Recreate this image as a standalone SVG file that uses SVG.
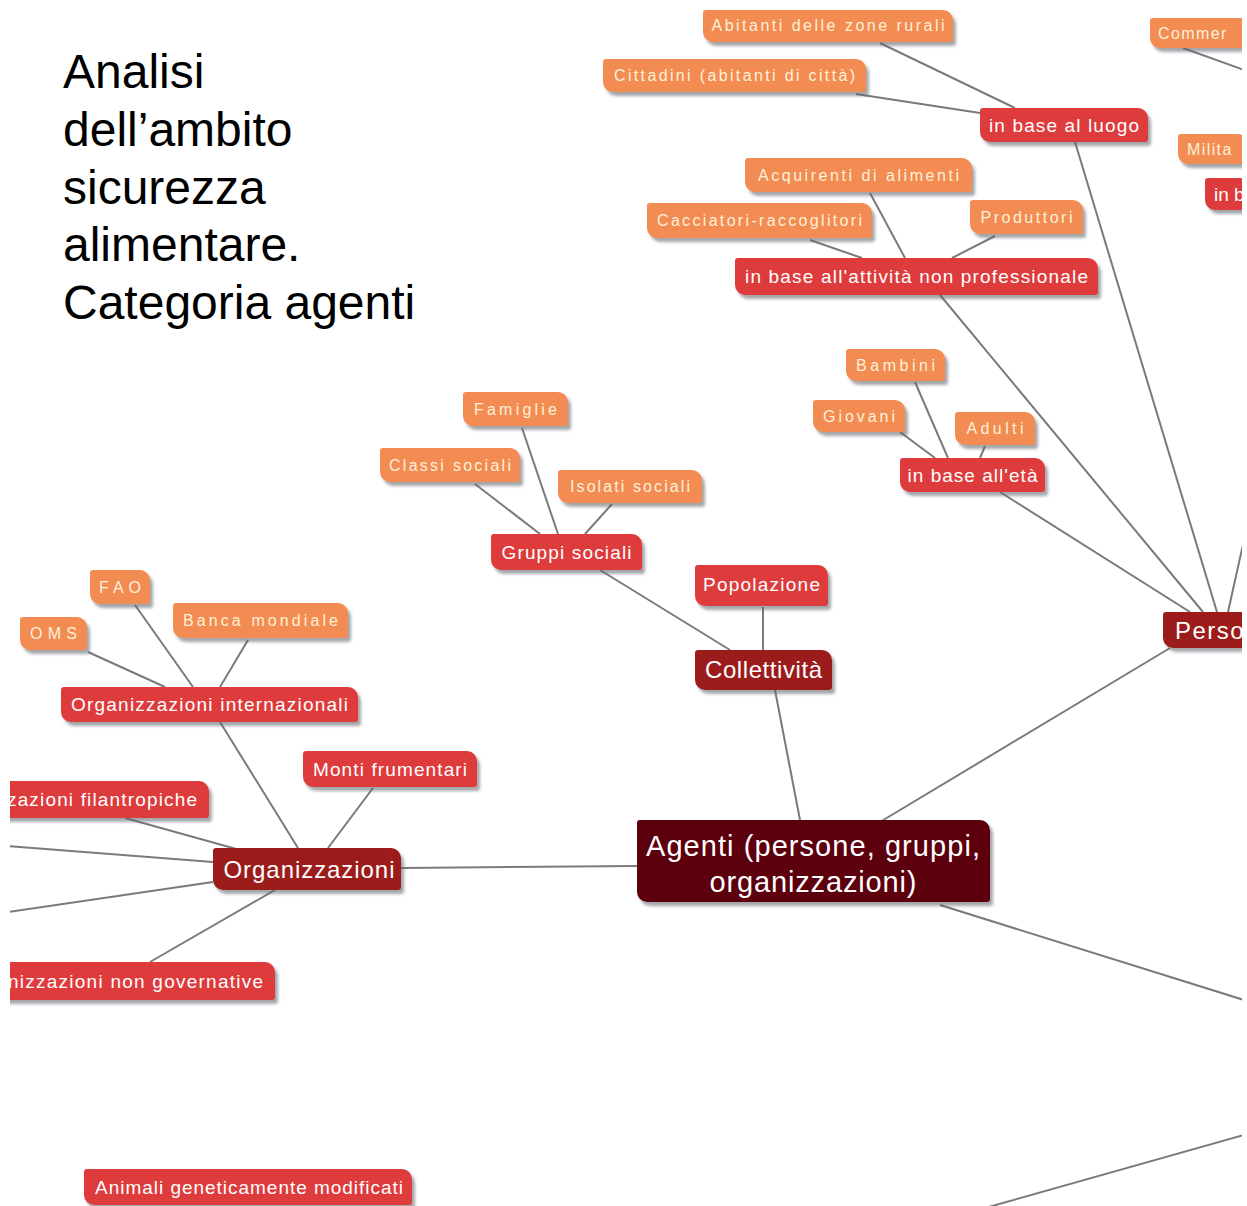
<svg xmlns="http://www.w3.org/2000/svg" width="1247" height="1206" viewBox="0 0 1247 1206">
<defs>
<clipPath id="area"><rect x="10" y="0" width="1232" height="1206"/></clipPath>
<filter id="sh" x="-10%" y="-20%" width="130%" height="160%">
<feDropShadow dx="3" dy="4" stdDeviation="1.5" flood-color="#5a6068" flood-opacity="0.55"/>
</filter>
</defs>
<style>
.bg{fill:#fff}
.title{font-family:"Liberation Sans",Arial,sans-serif;font-size:48px;fill:#000}
.edges line{stroke:#7a7a7a;stroke-width:2;fill:none}
.node path{filter:url(#sh)}
.o path{fill:#F28C52}
.r path{fill:#DE3B3D}
.d path{fill:#9C1A1C}
.a path{fill:#5B0507}
.node text{font-family:"Liberation Sans",Arial,sans-serif;text-anchor:middle}
.o text{fill:#FFF1D8;font-size:16px}
.r text{fill:#fff;font-size:19px}
.d text{fill:#fff;font-size:24px}
.a text{fill:#fff;font-size:29px}
.node text.s{text-anchor:start}
</style>
<rect class="bg" x="0" y="0" width="1247" height="1206"/>
<g id="title">
<text class="title" x="63" y="88">Analisi</text>
<text class="title" x="63" y="146">dell’ambito</text>
<text class="title" x="63" y="204">sicurezza</text>
<text class="title" x="63" y="261">alimentare.</text>
<text class="title" x="63" y="319">Categoria agenti</text>
</g>
<g clip-path="url(#area)">
<g id="connectors" class="edges">
<line x1="880" y1="43" x2="1015" y2="108"/>
<line x1="856" y1="94" x2="980" y2="113"/>
<line x1="1075" y1="142" x2="1217" y2="612"/>
<line x1="1183" y1="48" x2="1244" y2="70"/>
<line x1="870" y1="193" x2="905" y2="258"/>
<line x1="810" y1="240" x2="862" y2="258"/>
<line x1="995" y1="236" x2="952" y2="258"/>
<line x1="940" y1="295" x2="1203" y2="612"/>
<line x1="915" y1="382" x2="948" y2="458"/>
<line x1="900" y1="432" x2="935" y2="458"/>
<line x1="985" y1="446" x2="980" y2="458"/>
<line x1="1000" y1="492" x2="1190" y2="612"/>
<line x1="1244" y1="540" x2="1228" y2="612"/>
<line x1="1170" y1="648" x2="880" y2="822"/>
<line x1="475" y1="484" x2="540" y2="534"/>
<line x1="522" y1="428" x2="558" y2="534"/>
<line x1="612" y1="504" x2="585" y2="534"/>
<line x1="600" y1="570" x2="730" y2="650"/>
<line x1="763" y1="607" x2="763" y2="650"/>
<line x1="775" y1="690" x2="800" y2="820"/>
<line x1="401" y1="868" x2="637" y2="866"/>
<line x1="940" y1="905" x2="1244" y2="1000"/>
<line x1="985" y1="1208" x2="1244" y2="1135"/>
<line x1="135" y1="605" x2="193" y2="687"/>
<line x1="88" y1="652" x2="165" y2="687"/>
<line x1="248" y1="640" x2="220" y2="687"/>
<line x1="220" y1="722" x2="298" y2="848"/>
<line x1="373" y1="788" x2="328" y2="848"/>
<line x1="125" y1="818" x2="240" y2="850"/>
<line x1="8" y1="846" x2="213" y2="862"/>
<line x1="8" y1="912" x2="213" y2="882"/>
<line x1="150" y1="962" x2="275" y2="890"/>
</g>

<g id="n-abitanti" class="node o"><path d="M706,10 h237 a10,10 0 0 1 10,10 v19 a3,3 0 0 1 -3,3 h-237 a10,10 0 0 1 -10,-10 v-19 a3,3 0 0 1 3,-3 z"/><text x="828" y="31" textLength="233" lengthAdjust="spacing">Abitanti delle zone rurali</text></g>
<g id="n-cittadini" class="node o"><path d="M606,59 h250 a10,10 0 0 1 10,10 v20 a3,3 0 0 1 -3,3 h-250 a10,10 0 0 1 -10,-10 v-20 a3,3 0 0 1 3,-3 z"/><text x="734.5" y="81" textLength="241" lengthAdjust="spacing">Cittadini (abitanti di città)</text></g>
<g id="n-commer" class="node o"><path d="M1153,18 h87 a10,10 0 0 1 10,10 v17 a3,3 0 0 1 -3,3 h-87 a10,10 0 0 1 -10,-10 v-17 a3,3 0 0 1 3,-3 z"/><text class="s" x="1158" y="39" letter-spacing="1.4">Commer</text></g>
<g id="n-milita" class="node o"><path d="M1181,134 h57 a10,10 0 0 1 10,10 v17 a3,3 0 0 1 -3,3 h-57 a10,10 0 0 1 -10,-10 v-17 a3,3 0 0 1 3,-3 z"/><text class="s" x="1187" y="155" letter-spacing="1.4">Milita</text></g>
<g id="n-luogo" class="node r"><path d="M983,108 h155 a10,10 0 0 1 10,10 v21 a3,3 0 0 1 -3,3 h-155 a10,10 0 0 1 -10,-10 v-21 a3,3 0 0 1 3,-3 z"/><text x="1064" y="132" textLength="150" lengthAdjust="spacing">in base al luogo</text></g>
<g id="n-inb" class="node r"><path d="M1208,178 h32 a10,10 0 0 1 10,10 v19 a3,3 0 0 1 -3,3 h-32 a10,10 0 0 1 -10,-10 v-19 a3,3 0 0 1 3,-3 z"/><text class="s" x="1214" y="201">in b</text></g>
<g id="n-acquirenti" class="node o"><path d="M748,158 h214 a10,10 0 0 1 10,10 v21 a3,3 0 0 1 -3,3 h-214 a10,10 0 0 1 -10,-10 v-21 a3,3 0 0 1 3,-3 z"/><text x="858.5" y="181" textLength="201" lengthAdjust="spacing">Acquirenti di alimenti</text></g>
<g id="n-cacciatori" class="node o"><path d="M650,203 h212 a10,10 0 0 1 10,10 v22 a3,3 0 0 1 -3,3 h-212 a10,10 0 0 1 -10,-10 v-22 a3,3 0 0 1 3,-3 z"/><text x="759.5" y="226" textLength="205" lengthAdjust="spacing">Cacciatori-raccoglitori</text></g>
<g id="n-produttori" class="node o"><path d="M973,200 h100 a10,10 0 0 1 10,10 v21 a3,3 0 0 1 -3,3 h-100 a10,10 0 0 1 -10,-10 v-21 a3,3 0 0 1 3,-3 z"/><text x="1026.5" y="223" textLength="92" lengthAdjust="spacing">Produttori</text></g>
<g id="n-attivita" class="node r"><path d="M738,258 h350 a10,10 0 0 1 10,10 v24 a3,3 0 0 1 -3,3 h-350 a10,10 0 0 1 -10,-10 v-24 a3,3 0 0 1 3,-3 z"/><text x="916.5" y="283" textLength="343" lengthAdjust="spacing">in base all'attività non professionale</text></g>
<g id="n-bambini" class="node o"><path d="M849,349 h86 a10,10 0 0 1 10,10 v19 a3,3 0 0 1 -3,3 h-86 a10,10 0 0 1 -10,-10 v-19 a3,3 0 0 1 3,-3 z"/><text x="895.5" y="371" textLength="79" lengthAdjust="spacing">Bambini</text></g>
<g id="n-giovani" class="node o"><path d="M816,400 h79 a10,10 0 0 1 10,10 v19 a3,3 0 0 1 -3,3 h-79 a10,10 0 0 1 -10,-10 v-19 a3,3 0 0 1 3,-3 z"/><text x="859" y="422" textLength="72" lengthAdjust="spacing">Giovani</text></g>
<g id="n-adulti" class="node o"><path d="M958,412 h67 a10,10 0 0 1 10,10 v20 a3,3 0 0 1 -3,3 h-67 a10,10 0 0 1 -10,-10 v-20 a3,3 0 0 1 3,-3 z"/><text x="995" y="434" textLength="57" lengthAdjust="spacing">Adulti</text></g>
<g id="n-eta" class="node r"><path d="M903,458 h132 a10,10 0 0 1 10,10 v21 a3,3 0 0 1 -3,3 h-132 a10,10 0 0 1 -10,-10 v-21 a3,3 0 0 1 3,-3 z"/><text x="972.5" y="482" textLength="130" lengthAdjust="spacing">in base all'età</text></g>
<g id="n-persone" class="node d"><path d="M1166,612 h77 a10,10 0 0 1 10,10 v23 a3,3 0 0 1 -3,3 h-77 a10,10 0 0 1 -10,-10 v-23 a3,3 0 0 1 3,-3 z"/><text class="s" x="1175" y="639" letter-spacing="1.5">Perso</text></g>
<g id="n-famiglie" class="node o"><path d="M466,392 h92 a10,10 0 0 1 10,10 v21 a3,3 0 0 1 -3,3 h-92 a10,10 0 0 1 -10,-10 v-21 a3,3 0 0 1 3,-3 z"/><text x="515.5" y="415" textLength="83" lengthAdjust="spacing">Famiglie</text></g>
<g id="n-classi" class="node o"><path d="M383,448 h127 a10,10 0 0 1 10,10 v21 a3,3 0 0 1 -3,3 h-127 a10,10 0 0 1 -10,-10 v-21 a3,3 0 0 1 3,-3 z"/><text x="450" y="471" textLength="122" lengthAdjust="spacing">Classi sociali</text></g>
<g id="n-isolati" class="node o"><path d="M561,470 h131 a10,10 0 0 1 10,10 v20 a3,3 0 0 1 -3,3 h-131 a10,10 0 0 1 -10,-10 v-20 a3,3 0 0 1 3,-3 z"/><text x="630" y="492" textLength="120" lengthAdjust="spacing">Isolati sociali</text></g>
<g id="n-gruppi" class="node r"><path d="M494,534 h138 a10,10 0 0 1 10,10 v23 a3,3 0 0 1 -3,3 h-138 a10,10 0 0 1 -10,-10 v-23 a3,3 0 0 1 3,-3 z"/><text x="566.5" y="559" textLength="130" lengthAdjust="spacing">Gruppi sociali</text></g>
<g id="n-popolazione" class="node r"><path d="M698,565 h120 a10,10 0 0 1 10,10 v28 a3,3 0 0 1 -3,3 h-120 a10,10 0 0 1 -10,-10 v-28 a3,3 0 0 1 3,-3 z"/><text x="761.5" y="591" textLength="117" lengthAdjust="spacing">Popolazione</text></g>
<g id="n-collettivita" class="node d"><path d="M698,650 h124 a10,10 0 0 1 10,10 v27 a3,3 0 0 1 -3,3 h-124 a10,10 0 0 1 -10,-10 v-27 a3,3 0 0 1 3,-3 z"/><text x="763.5" y="678" textLength="117" lengthAdjust="spacing">Collettività</text></g>
<g id="n-fao" class="node o"><path d="M93,570 h47 a10,10 0 0 1 10,10 v21 a3,3 0 0 1 -3,3 h-47 a10,10 0 0 1 -10,-10 v-21 a3,3 0 0 1 3,-3 z"/><text x="120" y="593" textLength="42" lengthAdjust="spacing">FAO</text></g>
<g id="n-oms" class="node o"><path d="M23,617 h54 a10,10 0 0 1 10,10 v20 a3,3 0 0 1 -3,3 h-54 a10,10 0 0 1 -10,-10 v-20 a3,3 0 0 1 3,-3 z"/><text x="53.5" y="639" textLength="47" lengthAdjust="spacing">OMS</text></g>
<g id="n-banca" class="node o"><path d="M176,603 h162 a10,10 0 0 1 10,10 v22 a3,3 0 0 1 -3,3 h-162 a10,10 0 0 1 -10,-10 v-22 a3,3 0 0 1 3,-3 z"/><text x="260.5" y="626" textLength="155" lengthAdjust="spacing">Banca mondiale</text></g>
<g id="n-internazionali" class="node r"><path d="M64,687 h284 a10,10 0 0 1 10,10 v22 a3,3 0 0 1 -3,3 h-284 a10,10 0 0 1 -10,-10 v-22 a3,3 0 0 1 3,-3 z"/><text x="209.5" y="711" textLength="277" lengthAdjust="spacing">Organizzazioni internazionali</text></g>
<g id="n-monti" class="node r"><path d="M306,751 h161 a10,10 0 0 1 10,10 v23 a3,3 0 0 1 -3,3 h-161 a10,10 0 0 1 -10,-10 v-23 a3,3 0 0 1 3,-3 z"/><text x="390" y="776" textLength="154" lengthAdjust="spacing">Monti frumentari</text></g>
<g id="n-filantropiche" class="node r"><path d="M-7,781 h206 a10,10 0 0 1 10,10 v24 a3,3 0 0 1 -3,3 h-206 a10,10 0 0 1 -10,-10 v-24 a3,3 0 0 1 3,-3 z"/><text class="s" x="7" y="806" textLength="190" lengthAdjust="spacing">zazioni filantropiche</text></g>
<g id="n-organizzazioni" class="node d"><path d="M216,848 h175 a10,10 0 0 1 10,10 v29 a3,3 0 0 1 -3,3 h-175 a10,10 0 0 1 -10,-10 v-29 a3,3 0 0 1 3,-3 z"/><text x="309" y="878" textLength="171" lengthAdjust="spacing">Organizzazioni</text></g>
<g id="n-nongov" class="node r"><path d="M-7,962 h272 a10,10 0 0 1 10,10 v25 a3,3 0 0 1 -3,3 h-272 a10,10 0 0 1 -10,-10 v-25 a3,3 0 0 1 3,-3 z"/><text class="s" x="8" y="988" textLength="255" lengthAdjust="spacing">nizzazioni non governative</text></g>
<g id="n-animali" class="node r"><path d="M87,1169 h315 a10,10 0 0 1 10,10 v23 a3,3 0 0 1 -3,3 h-315 a10,10 0 0 1 -10,-10 v-23 a3,3 0 0 1 3,-3 z"/><text x="249" y="1194" textLength="308" lengthAdjust="spacing">Animali geneticamente modificati</text></g>
<g id="n-agenti" class="node a"><path d="M640,820 h340 a10,10 0 0 1 10,10 v69 a3,3 0 0 1 -3,3 h-340 a10,10 0 0 1 -10,-10 v-69 a3,3 0 0 1 3,-3 z"/><text x="813" y="856" textLength="334" lengthAdjust="spacing">Agenti (persone, gruppi,</text><text x="813" y="892" textLength="207" lengthAdjust="spacing">organizzazioni)</text></g>
</g>
</svg>
